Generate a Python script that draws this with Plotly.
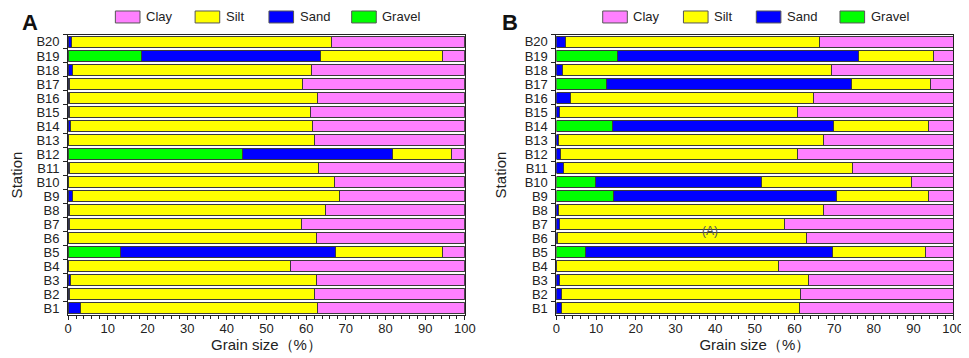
import plotly.graph_objects as go

stations = [f"B{i}" for i in range(1, 21)]

# Panel A (B1..B20)
gravel_a = [0, 0, 0, 0, 13.1, 0, 0, 0, 0, 0, 0, 44.0, 0, 0, 0, 0, 0, 0, 18.6, 0]
sand_a = [3.1, 0.3, 0.6, 0.1, 54.3, 0.2, 0.3, 0.4, 1.0, 0.2, 0.3, 37.7, 0.2, 0.5, 0.4, 0.3, 0.4, 1.0, 45.0, 0.9]
silt_a = [59.8, 61.8, 61.9, 55.9, 27.0, 62.4, 58.5, 64.4, 67.3, 66.9, 62.7, 14.9, 61.9, 61.1, 60.6, 62.5, 58.7, 60.3, 30.7, 65.6]
clay_a = [37.1, 37.9, 37.5, 44.0, 5.6, 37.4, 41.2, 35.2, 31.7, 32.9, 37.0, 3.4, 37.9, 38.4, 39.0, 37.2, 40.9, 38.7, 5.7, 33.5]

# Panel B (B1..B20)
gravel_b = [0, 0, 0, 0, 7.2, 0, 0, 0, 14.5, 9.8, 0, 0, 0, 14.1, 0, 0, 12.5, 0, 15.5, 0]
sand_b = [1.2, 1.2, 0.8, 0.1, 62.4, 0.2, 0.7, 0.5, 56.2, 41.9, 1.8, 1.0, 0.4, 55.8, 0.7, 3.5, 61.9, 1.5, 60.6, 2.2]
silt_b = [60.1, 60.2, 62.7, 55.9, 23.5, 62.9, 56.8, 66.8, 23.1, 37.7, 72.7, 59.8, 67.0, 24.0, 60.0, 61.2, 20.0, 67.8, 19.0, 64.1]
clay_b = [38.7, 38.6, 36.5, 44.0, 6.9, 36.9, 42.5, 32.7, 6.2, 10.6, 25.5, 39.2, 32.6, 6.1, 39.3, 35.3, 5.6, 30.7, 4.9, 33.7]

components = ["Gravel", "Sand", "Silt", "Clay"]
colors = {"Clay": "#FF80FF", "Silt": "#FFFF00", "Sand": "#0000FF", "Gravel": "#00FF00"}
x_ticks = list(range(0, 101, 10))
legend_order = ["Clay", "Silt", "Sand", "Gravel"]

FONT = "Arial, Liberation Sans, sans-serif"
EDGE = "#3a3a3a"

fig = go.Figure()
panels = [
    ("x", "y", {"Gravel": gravel_a, "Sand": sand_a, "Silt": silt_a, "Clay": clay_a}),
    ("x2", "y2", {"Gravel": gravel_b, "Sand": sand_b, "Silt": silt_b, "Clay": clay_b}),
]
for xa, ya, data in panels:
    for comp in components:
        fig.add_trace(go.Bar(
            x=data[comp], y=stations, orientation="h", name=comp,
            marker=dict(color=colors[comp], line=dict(color=EDGE, width=1)),
            xaxis=xa, yaxis=ya, showlegend=False,
        ))

H = 358
W = 969
y_top, y_bot = 27, 308
ydom = [1 - y_bot / H, 1 - y_top / H]
xdom_a = [57 / W, 460 / W]
xdom_b = [553 / W, 956 / W]

xaxis_common = dict(
    range=[0, 100], tickvals=x_ticks, ticks="outside", ticklen=4, tickwidth=1,
    tickcolor="#222", showline=True, linecolor="#222", linewidth=1, mirror=True,
    showgrid=False, zeroline=False, fixedrange=True,
    tickfont=dict(family=FONT, size=13, color="#222"), ticklabelstandoff=-3,
    minor=dict(dtick=2, ticks="outside", ticklen=3, tickcolor="#222", showgrid=False),
    title=dict(text="Grain size（%）", font=dict(family=FONT, size=15, color="#222"), standoff=4),
)
yaxis_common = dict(
    categoryorder="array", categoryarray=stations, type="category",
    tickmode="array", tickvals=stations, ticktext=stations,
    ticks="outside", ticklen=4, tickwidth=1, tickcolor="#222", tickson="boundaries",
    showline=True, linecolor="#222", linewidth=1, mirror=True, showgrid=False,
    tickfont=dict(family=FONT, size=13, color="#222"), ticklabelstandoff=5,
    title=dict(text="Station", font=dict(family=FONT, size=15, color="#222"), standoff=14),
    fixedrange=True,
)

fig.update_layout(
    width=W, height=H, barmode="stack", bargap=0.22,
    margin=dict(l=0, r=0, t=0, b=0),
    plot_bgcolor="white", paper_bgcolor="white",
    font=dict(family=FONT, color="#222"),
    xaxis=dict(domain=xdom_a, anchor="y", **xaxis_common),
    yaxis=dict(domain=ydom, anchor="x", **yaxis_common),
    xaxis2=dict(domain=xdom_b, anchor="y2", **xaxis_common),
    yaxis2=dict(domain=ydom, anchor="x2", **yaxis_common),
)

# Legends (drawn as boxes + labels)
shapes = []
annotations = []
legend_pos = {
    "a": [105, 186, 261, 345],
    "b": [600, 682, 756, 841],
}
for key, xs in legend_pos.items():
    for comp, x0 in zip(legend_order, xs):
        shapes.append(dict(type="rect", xref="paper", yref="paper",
                           x0=x0 / W, x1=(x0 + 25) / W, y0=1 - 15 / H, y1=1 - 3 / H,
                           fillcolor=colors[comp], line=dict(color="#555", width=1)))
        annotations.append(dict(text=comp, xref="paper", yref="paper", x=(x0 + 29) / W, y=1 - 9 / H,
                                xanchor="left", yanchor="middle", showarrow=False,
                                font=dict(family=FONT, size=13, color="#222")))

annotations.append(dict(text="<b>A</b>", xref="paper", yref="paper", x=8 / W, y=1 - 15 / H,
                        xanchor="left", yanchor="middle", showarrow=False,
                        font=dict(family=FONT, size=22, color="#111")))
annotations.append(dict(text="<b>B</b>", xref="paper", yref="paper", x=496 / W, y=1 - 15 / H,
                        xanchor="left", yanchor="middle", showarrow=False,
                        font=dict(family=FONT, size=22, color="#111")))
annotations.append(dict(text="(A)", xref="x2", yref="y2", x=38.6, y=5.5,
                        showarrow=False, font=dict(family=FONT, size=12, color="#555")))

fig.update_layout(shapes=shapes, annotations=annotations)
fig.write_html("out.html")
